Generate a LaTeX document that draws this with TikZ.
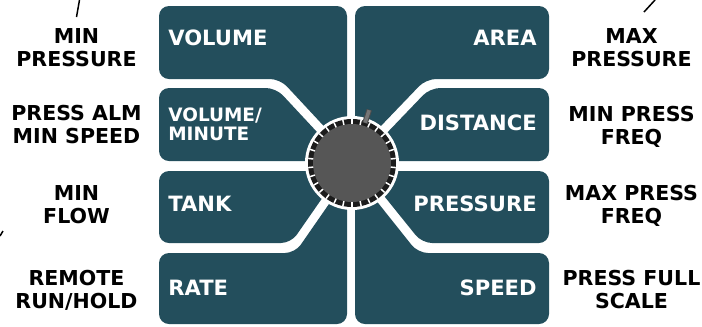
\documentclass[tikz,border=0pt]{standalone}
\usepackage{fontspec}
\setmainfont{DejaVu Sans}
\begin{document}
\begin{tikzpicture}[x=0.2mm, y=-0.2mm]
    % Define colours
    \definecolor{panelColour}{HTML}{234E5C}
    \definecolor{knobColour}{HTML}{565656}
    \definecolor{ringColour}{HTML}{1C1C1C}
    \definecolor{pointerColour}{HTML}{777777}

    % Define styles
    \tikzset{
        panel/.style={fill=panelColour, rounded corners=2mm},
        keyLabel/.style={text=white, inner sep=0pt, font=\bfseries\fontsize{12}{13}\selectfont},
        sideLabel/.style={align=center, inner sep=0pt, anchor=base, font=\bfseries\fontsize{11.7}{13}\selectfont},
        leader/.style={black, line width=0.3mm}
    }

    % Picture size
    \useasboundingbox (0,0) rectangle (702,326);

    % Knob centre
    \def\knobX{352}
    \def\knobY{163}
    \coordinate (knob) at (\knobX,\knobY);

    % Left panels
    \fill[panel] (159,6) -- (347,6) -- (347,151) -- (280,79) -- (159,79) -- cycle;
    \fill[panel] (159,88) -- (276,88) -- (344,161) -- (159,161) -- cycle;
    \fill[panel] (159,171) -- (341,171) -- (291,243) -- (159,243) -- cycle;
    \fill[panel] (159,253) -- (295,253) -- (347,178) -- (347,324) -- (159,324) -- cycle;

    % Right panels
    \fill[panel] (355,6) -- (549,6) -- (549,79) -- (426,79) -- (355,153) -- cycle;
    \fill[panel] (430,88) -- (549,88) -- (549,161) -- (360,161) -- cycle;
    \fill[panel] (364,171) -- (549,171) -- (549,243) -- (422,243) -- cycle;
    \fill[panel] (355,174) -- (418,253) -- (549,253) -- (549,324) -- (355,324) -- cycle;

    % Panel labels (base of a two-line node is its last line)
    \node[keyLabel, anchor=base west] (volume) at (168,45.7) {VOLUME};
    \node[keyLabel, anchor=base west, align=left, font=\bfseries\fontsize{10.5}{10.4}\selectfont] (volumeMinute) at (168,140) {VOLUME/\\MINUTE};
    \node[keyLabel, anchor=base west] (tank) at (168,211) {TANK};
    \node[keyLabel, anchor=base west] (rate) at (168,295.7) {RATE};
    \node[keyLabel, anchor=base east] (area) at (537,45.7) {AREA};
    \node[keyLabel, anchor=base east] (distance) at (537,130) {DISTANCE};
    \node[keyLabel, anchor=base east] (pressure) at (537,211) {PRESSURE};
    \node[keyLabel, anchor=base east] (speed) at (537,295.7) {SPEED};

    % Knob
    \fill[white] (knob) circle[radius=47];
    \fill[ringColour] (knob) circle[radius=44];
    \fill[knobColour] (knob) circle[radius=39];
    \foreach \a in {6,18,...,354}
        \draw[white, line width=0.3mm] ([shift={(\a:39)}]knob) -- ([shift={(\a:44)}]knob);
    \draw[black!70, line width=1.1mm] ([shift={(-72:42)}]knob) -- ([shift={(-72:56)}]knob);
    \draw[pointerColour, line width=0.7mm] ([shift={(-72:42.5)}]knob) -- ([shift={(-72:55.5)}]knob);

    % Side labels
    \node[sideLabel] (minPressure) at (76.5,66.5) {MIN\\PRESSURE};
    \node[sideLabel] (pressAlm) at (76.5,143) {PRESS ALM\\MIN SPEED};
    \node[sideLabel] (minFlow) at (76.5,223.5) {MIN\\FLOW};
    \node[sideLabel] (remoteRun) at (76.5,308) {REMOTE\\RUN/HOLD};
    \node[sideLabel] (maxPressure) at (631.5,66.5) {MAX\\PRESSURE};
    \node[sideLabel] (minPressFreq) at (631.5,144) {MIN PRESS\\FREQ};
    \node[sideLabel] (maxPressFreq) at (631.5,223.5) {MAX PRESS\\FREQ};
    \node[sideLabel] (pressFull) at (631.5,308) {PRESS FULL\\SCALE};

    % Leader stubs
    \coordinate (topLeftEnd) at (79.5,0);
    \coordinate (topRightEnd) at (655,0);
    \coordinate (midLeftEnd) at (0,236);
    \draw[leader] (76.5,17) -- (topLeftEnd);
    \draw[leader] (644,12) -- (topRightEnd);
    \draw[leader] (3,231) -- (midLeftEnd);

\end{tikzpicture}
\end{document}
